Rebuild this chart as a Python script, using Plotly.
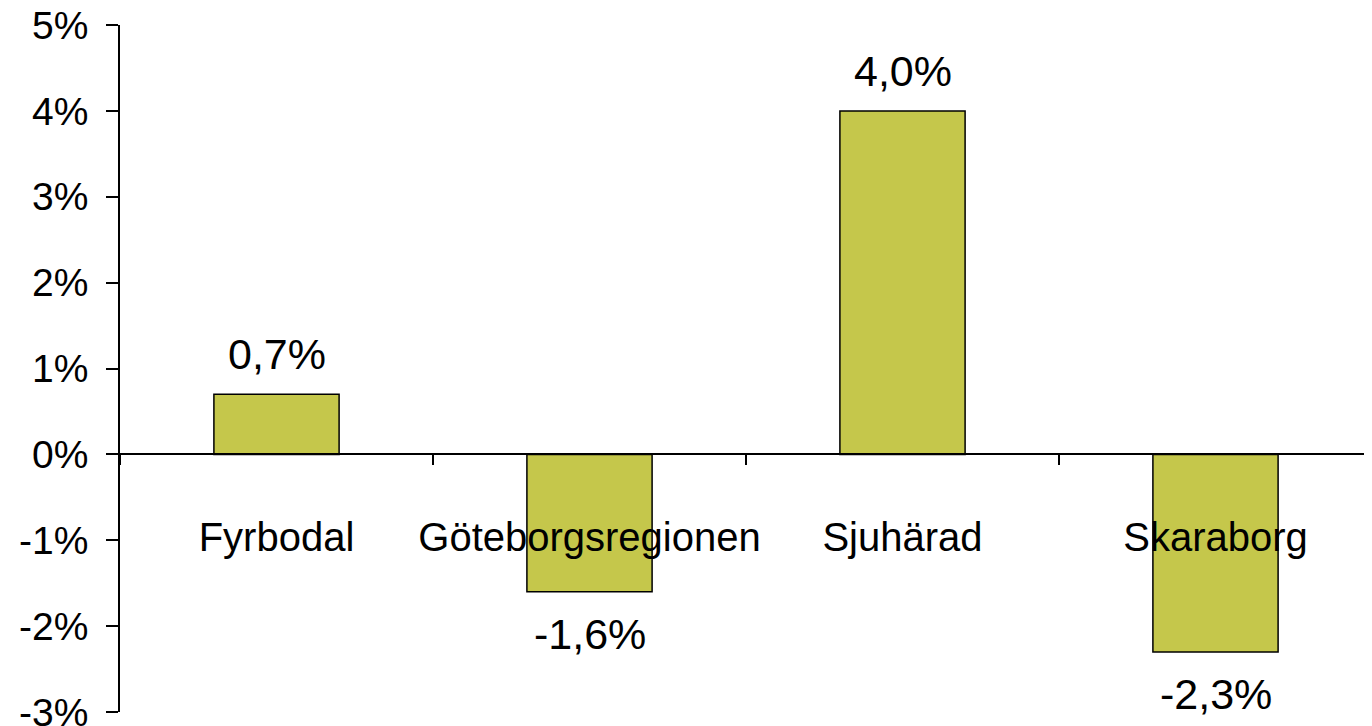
import plotly.graph_objects as go

categories = ["Fyrbodal", "Göteborgsregionen", "Sjuhärad", "Skaraborg"]
values = [0.7, -1.6, 4.0, -2.3]
y_tick_vals = [-3, -2, -1, 0, 1, 2, 3, 4, 5]
y_tick_text = ["-3%", "-2%", "-1%", "0%", "1%", "2%", "3%", "4%", "5%"]
labels = [f"{v:.1f}%".replace(".", ",") for v in values]

FONT = "Liberation Sans, Arial, sans-serif"
BAR_COLOR = "#C5C74B"

fig = go.Figure()
fig.add_trace(go.Bar(
    x=categories, y=values,
    marker=dict(color=BAR_COLOR, line=dict(color="black", width=1.5)),
    hoverinfo="skip",
))

for c, v, t in zip(categories, values, labels):
    fig.add_annotation(
        x=c, y=v, xref="x", yref="y", text=t, showarrow=False,
        yanchor="middle", yshift=40 if v >= 0 else -42,
        font=dict(family=FONT, size=43, color="black"),
    )

fig.update_layout(
    width=1364, height=718,
    margin=dict(l=112, r=0, t=17, b=14),
    paper_bgcolor="white", plot_bgcolor="white",
    bargap=0.6, showlegend=False,
    font=dict(family=FONT, size=38, color="black"),
    xaxis=dict(
        anchor="free", position=0.375, automargin=False,
        showline=True, linecolor="black", linewidth=1.5,
        ticks="outside", ticklen=10, tickwidth=1.5, tickcolor="black",
        tickson="boundaries", showgrid=False, zeroline=False,
        tickangle=0,
        tickfont=dict(family=FONT, size=40, color="black"),
        ticklabelstandoff=48,
    ),
    yaxis=dict(
        range=[-3, 5], tickvals=y_tick_vals, ticktext=y_tick_text,
        automargin=False, ticklabeloverflow="allow",
        showline=True, linecolor="black", linewidth=1.5,
        ticks="outside", ticklen=12, tickwidth=1.5, tickcolor="black",
        showgrid=False, zeroline=False,
        tickfont=dict(family=FONT, size=39, color="black"),
        ticklabelstandoff=10,
    ),
)

fig.write_html("out.html")
